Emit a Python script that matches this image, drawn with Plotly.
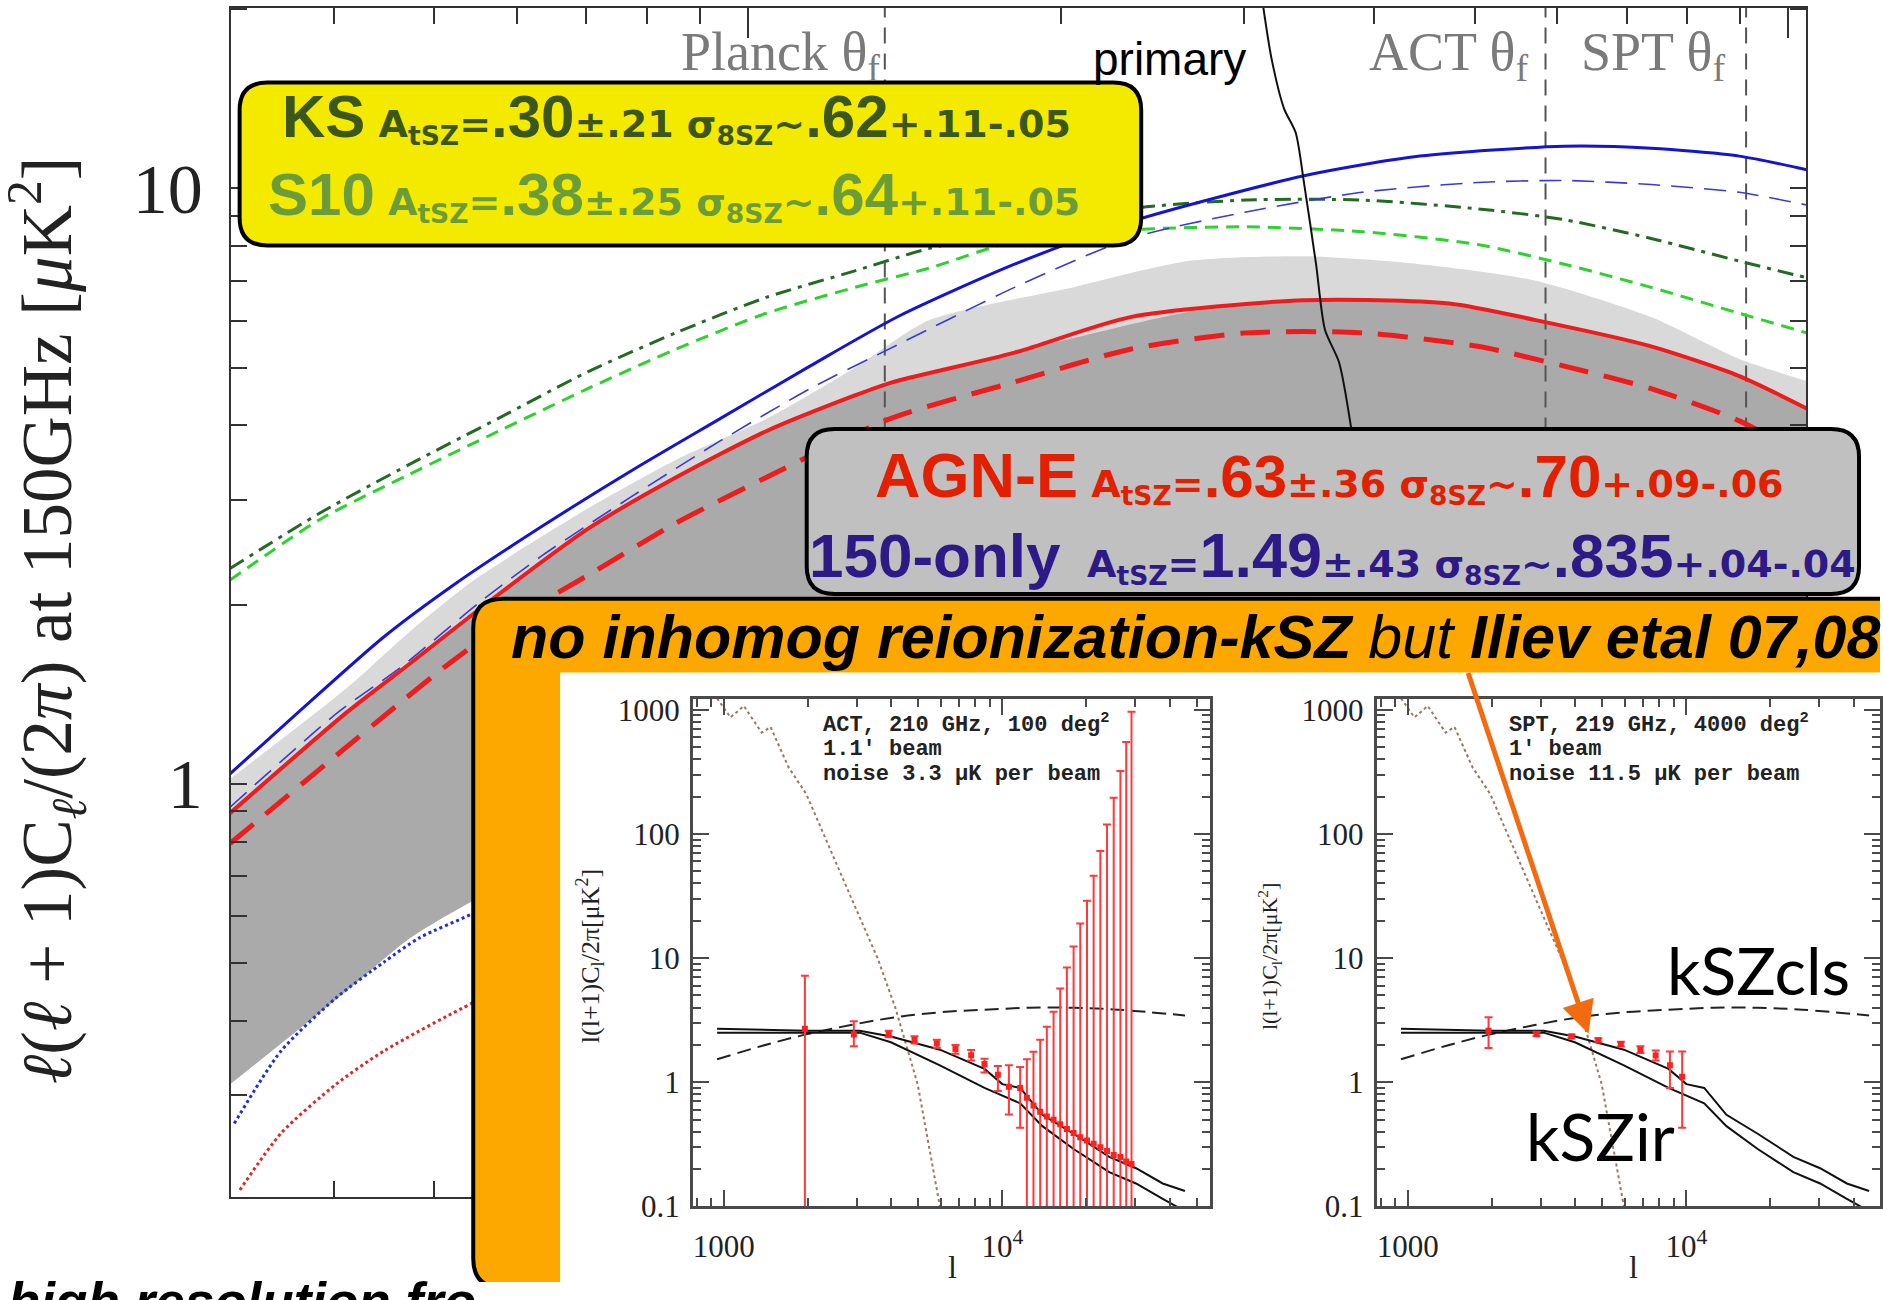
import plotly.graph_objects as go

W, H = 1883, 1300

# ---------------- main panel (tSZ power at 150 GHz) ----------------
blue_solid_ell = [318, 370, 446, 522, 635, 774, 942, 1148, 1397, 1806, 2333, 3428, 4429, 6099, 7390, 8983, 10430]
blue_solid_val = [1.04, 1.32, 1.76, 2.16, 2.71, 3.36, 4.11, 5.03, 6.1, 7.46, 8.79, 10.5, 11.33, 11.77, 11.68, 11.33, 10.75]

blue_dash_ell = [318, 404, 464, 553, 635, 774, 942, 1148, 1346, 1806, 2333, 3015, 3896, 5035, 6099, 7390, 8983, 10430]
blue_dash_val = [0.914, 1.32, 1.57, 2.02, 2.42, 3.04, 3.77, 4.61, 5.30, 6.82, 8.24, 9.13, 9.85, 10.23, 10.31, 10.15, 9.85, 9.38]

dkgreen_ell = [318, 388, 473, 576, 702, 853, 1042, 1268, 1496, 2333, 3015, 3896, 5035, 6099, 7390, 8983, 10430]
dkgreen_val = [2.30, 2.85, 3.44, 4.11, 4.92, 5.72, 6.56, 7.27, 7.93, 9.24, 9.56, 9.56, 9.24, 8.86, 8.24, 7.55, 7.08]

ltgreen_ell = [318, 388, 473, 576, 702, 853, 1042, 1268, 1496, 1806, 2333, 3015, 3896, 5035, 6099, 7390, 8983, 10430]
ltgreen_val = [2.20, 2.78, 3.31, 3.91, 4.61, 5.37, 6.17, 6.82, 7.35, 8.15, 8.52, 8.62, 8.46, 8.05, 7.46, 6.82, 6.17, 5.72]

red_solid_ell = [318, 412, 473, 576, 702, 853, 1042, 1268, 1374, 1806, 2333, 3428, 4725, 5724, 7390, 8983, 10430]
red_solid_val = [0.893, 1.32, 1.59, 2.08, 2.68, 3.27, 3.91, 4.49, 4.72, 5.3, 6.08, 6.49, 6.41, 6.01, 5.43, 4.84, 4.27]

red_dash_ell = [318, 459, 511, 576, 702, 853, 1042, 1374, 1806, 2333, 3015, 3896, 5035, 6099, 7390, 8983, 10430]
red_dash_val = [0.794, 1.35, 1.57, 1.83, 2.24, 2.74, 3.27, 4.11, 4.73, 5.37, 5.72, 5.72, 5.43, 5.03, 4.61, 4.07, 3.53]

blue_dot_ell = [321, 356, 402, 447, 484, 546, 700]
blue_dot_val = [0.269, 0.356, 0.437, 0.502, 0.552, 0.607, 0.75]

red_dot_ell = [325, 356, 402, 447, 546, 700]
red_dot_val = [0.208, 0.259, 0.313, 0.356, 0.430, 0.52]

band_ell = [318, 412, 473, 546, 702, 853, 1042, 1268, 1496, 2053, 2653, 3428, 4429, 5724, 7390, 8983, 10430]
band_low = [0.313, 0.45, 0.55, 0.638, 0.78, 0.9, 1.0, 1.15, 1.3, 1.45, 1.55, 1.6, 1.6, 1.55, 1.45, 1.35, 1.25]
band_light_top = [1.02, 1.45, 1.80, 2.2, 2.9, 3.5, 4.1, 5.0, 6.01, 6.82, 7.55, 7.69, 7.46, 7.00, 6.08, 5.17, 4.75]
band_dark_top = [0.893, 1.32, 1.59, 1.95, 2.68, 3.27, 3.91, 4.49, 4.9, 5.6, 6.2, 6.49, 6.45, 6.01, 5.43, 4.84, 4.27]

primary_ell = [3130, 3190, 3280, 3365, 3428, 3520, 3590, 3703, 3800, 3880]
primary_val = [20.3, 16.5, 13.6, 12.4, 10.2, 7.46, 5.79, 5.11, 4.01, 3.0]

theta_names = ["Planck", "ACT", "SPT"]
theta_ell = [1355, 5850, 9120]

main_y_major = [1, 10]
main_y_minor = [0.3, 0.4, 0.5, 0.6, 0.7, 0.8, 0.9, 2, 3, 4, 5, 6, 7, 8, 9, 20]
main_x_major = [1000, 10000]
main_x_minor = [400, 500, 600, 700, 800, 900, 2000, 3000, 4000, 5000, 6000, 7000, 8000, 9000]

# ---------------- inset panels (kSZ forecasts) ----------------
cmb_ell = [946, 1057, 1180, 1368, 1472, 1707, 1977, 2291, 2858, 3565, 4130, 4966, 5970]
cmb_val = [1237, 867, 1074, 654, 728, 345, 210, 96.5, 31.1, 10, 3.98, 0.966, 0.1]

ksz_up_ell = [946, 1977, 3076, 3981, 5970, 8630, 10000, 11590, 13930, 18030, 24210, 30200, 37670, 45290]
ksz_up_val = [2.70, 2.60, 2.60, 2.34, 1.83, 1.28, 0.966, 0.90, 0.547, 0.385, 0.251, 0.203, 0.153, 0.133]

ksz_lo_ell = [946, 3076, 3981, 5970, 8630, 10000, 11590, 13930, 18030, 24210, 30200, 37670, 42000, 48000]
ksz_lo_val = [2.51, 2.51, 2.10, 1.37, 0.90, 0.78, 0.677, 0.443, 0.29, 0.189, 0.153, 0.115, 0.1, 0.085]

kszcls_ell = [946, 1368, 1977, 2858, 4130, 5970, 8630, 12470, 18030, 26060, 45290]
kszcls_val = [1.53, 1.96, 2.43, 2.89, 3.34, 3.66, 3.84, 3.98, 3.98, 3.84, 3.45]

act_ell = [1955, 2930, 3910, 4840, 5820, 6790, 7730, 8630, 9640, 10560, 11590, 12250, 12940,
           13680, 14450, 15280, 16140, 17060, 18030, 19050, 20140, 21280, 22490, 23770,
           25120, 26550, 27860, 29100]
act_val = [2.7, 2.43, 2.45, 2.2, 2.05, 1.85, 1.65, 1.4, 1.15, 0.92, 0.9, 0.75, 0.65, 0.58,
           0.53, 0.5, 0.46, 0.42, 0.39, 0.36, 0.34, 0.32, 0.30, 0.28, 0.26, 0.25, 0.23, 0.22]
act_hi = [7.2, 3.1, 2.6, 2.35, 2.2, 2.0, 1.82, 1.55, 1.35, 1.37, 1.33, 1.53, 1.76, 2.2, 2.8,
          3.7, 5.7, 8.4, 12.4, 19, 29, 46, 73, 119, 196, 322, 550, 965]
act_lo = [0.05, 1.95, 2.3, 2.05, 1.9, 1.7, 1.5, 1.2, 0.85, 0.55, 0.43, 0.05, 0.05, 0.05, 0.05,
          0.05, 0.05, 0.05, 0.05, 0.05, 0.05, 0.05, 0.05, 0.05, 0.05, 0.05, 0.05, 0.05]

spt_ell = [1950, 2900, 3870, 4830, 5820, 6840, 7760, 8730, 9660]
spt_val = [2.6, 2.45, 2.34, 2.18, 2.03, 1.83, 1.64, 1.37, 1.11]
spt_hi = [3.34, 2.55, 2.42, 2.26, 2.12, 1.95, 1.8, 1.77, 1.77]
spt_lo = [1.89, 2.35, 2.26, 2.1, 1.94, 1.72, 1.5, 0.9, 0.43]

inset_y_major = [0.1, 1, 10, 100, 1000]
inset_y_labels = ["0.1", "1", "10", "100", "1000"]
inset_y_minor = [0.2, 0.3, 0.4, 0.5, 0.6, 0.7, 0.8, 0.9, 2, 3, 4, 5, 6, 7, 8, 9,
                 20, 30, 40, 50, 60, 70, 80, 90, 200, 300, 400, 500, 600, 700, 800, 900]
inset_x_major = [1000, 10000]
inset_x_labels = ["1000", "10<sup>4</sup>"]
inset_x_minor = [800, 900, 2000, 3000, 4000, 5000, 6000, 7000, 8000, 9000,
                 20000, 30000, 40000, 50000]

fig = go.Figure()

# ---- main panel traces ----
M = dict(xaxis="x", yaxis="y", showlegend=False, hoverinfo="skip")
SP = dict(shape="spline", smoothing=0.7)
fig.add_trace(go.Scatter(x=band_ell, y=band_low, mode="lines", line=dict(width=0, **SP), **M))
fig.add_trace(go.Scatter(x=band_ell, y=band_light_top, mode="lines", fill="tonexty",
                         fillcolor="#d9d9d9", line=dict(width=0, **SP), **M))
fig.add_trace(go.Scatter(x=band_ell, y=band_low, mode="lines", line=dict(width=0, **SP), **M))
fig.add_trace(go.Scatter(x=band_ell, y=band_dark_top, mode="lines", fill="tonexty",
                         fillcolor="#aaaaaa", line=dict(width=0, **SP), **M))

vx, vy = [], []
for t in theta_ell:
    vx += [t, t, None]
    vy += [0.19, 21, None]
fig.add_trace(go.Scatter(x=vx, y=vy, mode="lines", line=dict(color="#555555", width=2, dash="16px,10px"), **M))

fig.add_trace(go.Scatter(x=dkgreen_ell, y=dkgreen_val, mode="lines",
                         line=dict(color="#236b22", width=3, dash="16px,7px,4px,7px", **SP), **M))
fig.add_trace(go.Scatter(x=ltgreen_ell, y=ltgreen_val, mode="lines",
                         line=dict(color="#2fd12f", width=3, dash="13px,8px", **SP), **M))
fig.add_trace(go.Scatter(x=blue_dash_ell, y=blue_dash_val, mode="lines",
                         line=dict(color="#3a3ad8", width=1.6, dash="22px,11px", **SP), **M))
fig.add_trace(go.Scatter(x=blue_solid_ell, y=blue_solid_val, mode="lines",
                         line=dict(color="#1414d2", width=3, **SP), **M))
fig.add_trace(go.Scatter(x=red_dash_ell, y=red_dash_val, mode="lines",
                         line=dict(color="#ee1c1c", width=5, dash="30px,16px", **SP), **M))
fig.add_trace(go.Scatter(x=red_solid_ell, y=red_solid_val, mode="lines",
                         line=dict(color="#ee1c1c", width=4, **SP), **M))
fig.add_trace(go.Scatter(x=blue_dot_ell, y=blue_dot_val, mode="lines",
                         line=dict(color="#2030d8", width=3, dash="dot", **SP), **M))
fig.add_trace(go.Scatter(x=red_dot_ell, y=red_dot_val, mode="lines",
                         line=dict(color="#e02828", width=3, dash="dot", **SP), **M))
fig.add_trace(go.Scatter(x=primary_ell, y=primary_val, mode="lines",
                         line=dict(color="#111111", width=2, **SP), **M))

# ---- overlay (pixel) subplot, used for the boxes ----
fig.add_trace(go.Scatter(x=[None], y=[None], xaxis="x2", yaxis="y2", showlegend=False, hoverinfo="skip"))

# ---- insets ----
def add_inset(xa, ya, pts_ell, pts_val, pts_hi, pts_lo):
    I = dict(xaxis=xa, yaxis=ya, showlegend=False, hoverinfo="skip")
    fig.add_trace(go.Scatter(x=cmb_ell, y=cmb_val, mode="lines",
                             line=dict(color="#a07660", width=2, dash="dot"), **I))
    fig.add_trace(go.Scatter(x=kszcls_ell, y=kszcls_val, mode="lines",
                             line=dict(color="#222222", width=2, dash="14px,7px", shape="spline"), **I))
    fig.add_trace(go.Scatter(x=ksz_up_ell, y=ksz_up_val, mode="lines",
                             line=dict(color="#111111", width=2), **I))
    fig.add_trace(go.Scatter(x=ksz_lo_ell, y=ksz_lo_val, mode="lines",
                             line=dict(color="#111111", width=2), **I))
    fig.add_trace(go.Scatter(
        x=pts_ell, y=pts_val, mode="markers",
        marker=dict(symbol="square", size=6, color="#ff2020"),
        error_y=dict(type="data", symmetric=False,
                     array=[h - v for h, v in zip(pts_hi, pts_val)],
                     arrayminus=[v - l for v, l in zip(pts_val, pts_lo)],
                     color="#ff3838", thickness=2, width=4), **I))

add_inset("x3", "y3", act_ell, act_val, act_hi, act_lo)
add_inset("x4", "y4", spt_ell, spt_val, spt_hi, spt_lo)

# ---------------- axes ----------------
def px(x):
    return x / W

def py(y):
    return 1 - y / H

main_x = dict(type="log", range=[2.503, 4.0177], domain=[px(231), px(1809)], anchor="y",
              showline=True, linecolor="#333333", linewidth=2, mirror="allticks",
              ticks="inside", tickvals=main_x_major, ticklen=30, tickwidth=2, tickcolor="#333333",
              showticklabels=False, showgrid=False, zeroline=False,
              minor=dict(tickvals=main_x_minor, ticks="inside", ticklen=16, tickwidth=1.5,
                         tickcolor="#333333", showgrid=False))
main_y = dict(type="log", range=[-0.693, 1.303], domain=[py(1213), py(2)], anchor="x",
              showline=True, linecolor="#333333", linewidth=2, mirror="allticks",
              ticks="inside", tickvals=main_y_major, ticktext=["1", "10"], ticklen=16,
              tickwidth=2, tickcolor="#333333", showgrid=False, zeroline=False,
              tickfont=dict(family="Liberation Serif", size=70, color="#222222"),
              ticklabelstandoff=12,
              minor=dict(tickvals=main_y_minor, ticks="inside", ticklen=16, tickwidth=1.5,
                         tickcolor="#333333", showgrid=False))

ov_x = dict(range=[0, W], domain=[0, 1], anchor="y2", visible=False, fixedrange=True)
ov_y = dict(range=[H, 0], domain=[0, 1], anchor="x2", visible=False, fixedrange=True)

def inset_axes(dom_x, xr):
    ax = dict(type="log", range=xr, domain=dom_x, showline=True, linecolor="#4a4a4a",
              linewidth=3, mirror="allticks", ticks="inside", tickvals=inset_x_major,
              ticktext=inset_x_labels, ticklen=16, tickwidth=2, tickcolor="#4a4a4a",
              showgrid=False, zeroline=False, ticklabelstandoff=10,
              tickfont=dict(family="Liberation Serif", size=31, color="#222222"),
              minor=dict(tickvals=inset_x_minor, ticks="inside", ticklen=8, tickwidth=1.5,
                         tickcolor="#4a4a4a", showgrid=False))
    ay = dict(type="log", range=[-1, 3.087], domain=[py(1223), py(706)], showline=True,
              linecolor="#4a4a4a", linewidth=3, mirror="allticks", ticks="inside",
              tickvals=inset_y_major, ticktext=inset_y_labels, ticklen=16, tickwidth=2,
              tickcolor="#4a4a4a", showgrid=False, zeroline=False,
              tickfont=dict(family="Liberation Serif", size=31, color="#222222"),
              ticklabelstandoff=4,
              minor=dict(tickvals=inset_y_minor, ticks="inside", ticklen=8, tickwidth=1.5,
                         tickcolor="#4a4a4a", showgrid=False))
    return ax, ay

x3, y3 = inset_axes([px(694), px(1212)], [2.889, 4.746])
x3["anchor"] = "y3"; y3["anchor"] = "x3"
x4, y4 = inset_axes([px(1379), 1.0], [2.889, 4.695])
x4["anchor"] = "y4"; y4["anchor"] = "x4"

# ---------------- boxes ----------------
def rrect(x0, y0, x1, y1, r):
    return (f"M{x0 + r},{y0} L{x1 - r},{y0} Q{x1},{y0} {x1},{y0 + r} L{x1},{y1 - r} "
            f"Q{x1},{y1} {x1 - r},{y1} L{x0 + r},{y1} Q{x0},{y1} {x0},{y1 - r} "
            f"L{x0},{y0 + r} Q{x0},{y0} {x0 + r},{y0} Z")

shapes = [
    dict(type="path", xref="x2", yref="y2", layer="below", path=rrect(474, 604, 2100, 1306, 30),
         fillcolor="#fca800", line=dict(color="#000000", width=4)),
    dict(type="rect", xref="x2", yref="y2", layer="below", x0=561, y0=679, x1=2100, y1=1400,
         fillcolor="#ffffff", line=dict(width=0)),
    dict(type="path", xref="x2", yref="y2", layer="above", path=rrect(240, 78, 1143, 244, 28),
         fillcolor="#f4ea00", line=dict(color="#000000", width=4)),
    dict(type="path", xref="x2", yref="y2", layer="above", path=rrect(808, 431, 1862, 599, 28),
         fillcolor="#c0c0c0", line=dict(color="#000000", width=4)),
]

# ---------------- texts ----------------
def big(s, size=60):
    return f"<span style='font-family:Liberation Sans;font-size:{size}px'>{s}</span>"

ann = []
def A(x, y, text, **kw):
    d = dict(x=x, y=y, xref="x2", yref="y2", text=text, showarrow=False,
             xanchor=kw.pop("xanchor", "left"), yanchor=kw.pop("yanchor", "middle"))
    d.update(kw)
    ann.append(d)

small_font = lambda c: dict(family="DejaVu Sans", size=38, color=c)

A(280, 113, "<b>" + big("KS") + " A<sub>tSZ</sub>=" + big(".30") + "±.21 σ<sub>8SZ</sub>~" + big(".62") + "+.11-.05</b>",
  font=small_font("#3b571b"))
A(266, 193, "<b>" + big("S10") + " A<sub>tSZ</sub>=" + big(".38") + "±.25 σ<sub>8SZ</sub>~" + big(".64") + "+.11-.05</b>",
  font=small_font("#6a9d3a"))
A(874, 478, "<b>" + big("AGN-E", 63) + " A<sub>tSZ</sub>=" + big(".63") + "±.36 σ<sub>8SZ</sub>~" + big(".70") + "+.09-.06</b>",
  font=small_font("#e22000"))
A(808, 560, "<b>" + big("150-only", 62) + "  A<sub>tSZ</sub>=" + big("1.49", 63) + "±.43 σ<sub>8SZ</sub>~" + big(".835", 62) + "+.04-.04</b>",
  font=small_font("#2e1a87"))

A(510, 643, "<b><i>no inhomog reionization-kSZ</i></b> <i>but</i> <b><i>Iliev etal 07,08</i></b>",
  font=dict(family="Liberation Sans", size=61, color="#000000"))
A(6, 1288, "<b><i>high resolution fro</i></b>", yanchor="top",
  font=dict(family="Liberation Sans", size=53, color="#000000"))

serif_gray = dict(family="Liberation Serif", size=54, color="#7a7a7a")
A(883, 50, "Planck θ<sub>f</sub>", xanchor="right", font=serif_gray)
A(1532, 50, "ACT θ<sub>f</sub>", xanchor="right", font=serif_gray)
A(1730, 50, "SPT θ<sub>f</sub>", xanchor="right", font=serif_gray)
A(1093, 54, "primary", font=dict(family="Liberation Sans", size=46, color="#000000"))

A(48, 626, "<i>ℓ</i>(<i>ℓ</i> + 1)C<sub><i>ℓ</i></sub>/(2<i>π</i>) at 150GHz [<i>μ</i>K<sup>2</sup>]",
  xanchor="center", textangle=-90, font=dict(family="Liberation Serif", size=71, color="#222222"))

mono = dict(family="Liberation Mono", size=22, color="#222222")
for i, line in enumerate(["ACT, 210 GHz, 100 deg<sup>2</sup>", "1.1' beam", "noise 3.3 μK per beam"]):
    A(822, 731 + 26 * i, "<b>" + line + "</b>", font=mono)
for i, line in enumerate(["SPT, 219 GHz, 4000 deg<sup>2</sup>", "1' beam", "noise 11.5 μK per beam"]):
    A(1509, 731 + 26 * i, "<b>" + line + "</b>", font=mono)

ylab_inset = "l(l+1)C<sub>l</sub>/2π[μK<sup>2</sup>]"
A(591, 968, ylab_inset, xanchor="center", textangle=-90,
  font=dict(family="Liberation Serif", size=26, color="#222222"))
A(1271, 968, ylab_inset, xanchor="center", textangle=-90,
  font=dict(family="Liberation Serif", size=22, color="#222222"))
A(954, 1285, "l", xanchor="center", font=dict(family="Liberation Serif", size=32, color="#222222"))
A(1636, 1285, "l", xanchor="center", font=dict(family="Liberation Serif", size=32, color="#222222"))

A(1761, 982, "kSZcls", xanchor="center", font=dict(family="Lato", size=66, color="#000000"))
A(1603, 1151, "kSZir", xanchor="center", font=dict(family="Lato", size=66, color="#000000"))

ann.append(dict(x=1591, y=1047, xref="x2", yref="y2", ax=1470, ay=678, axref="x2", ayref="y2",
                text="", showarrow=True, arrowhead=2, arrowsize=1.3, arrowwidth=5,
                arrowcolor="#f26b10"))

fig.update_layout(
    width=W, height=H, margin=dict(l=0, r=0, t=0, b=0),
    paper_bgcolor="#ffffff", plot_bgcolor="rgba(0,0,0,0)",
    xaxis=main_x, yaxis=main_y, xaxis2=ov_x, yaxis2=ov_y,
    xaxis3=x3, yaxis3=y3, xaxis4=x4, yaxis4=y4,
    shapes=shapes, annotations=ann, showlegend=False,
)

fig.write_html("out.html")
